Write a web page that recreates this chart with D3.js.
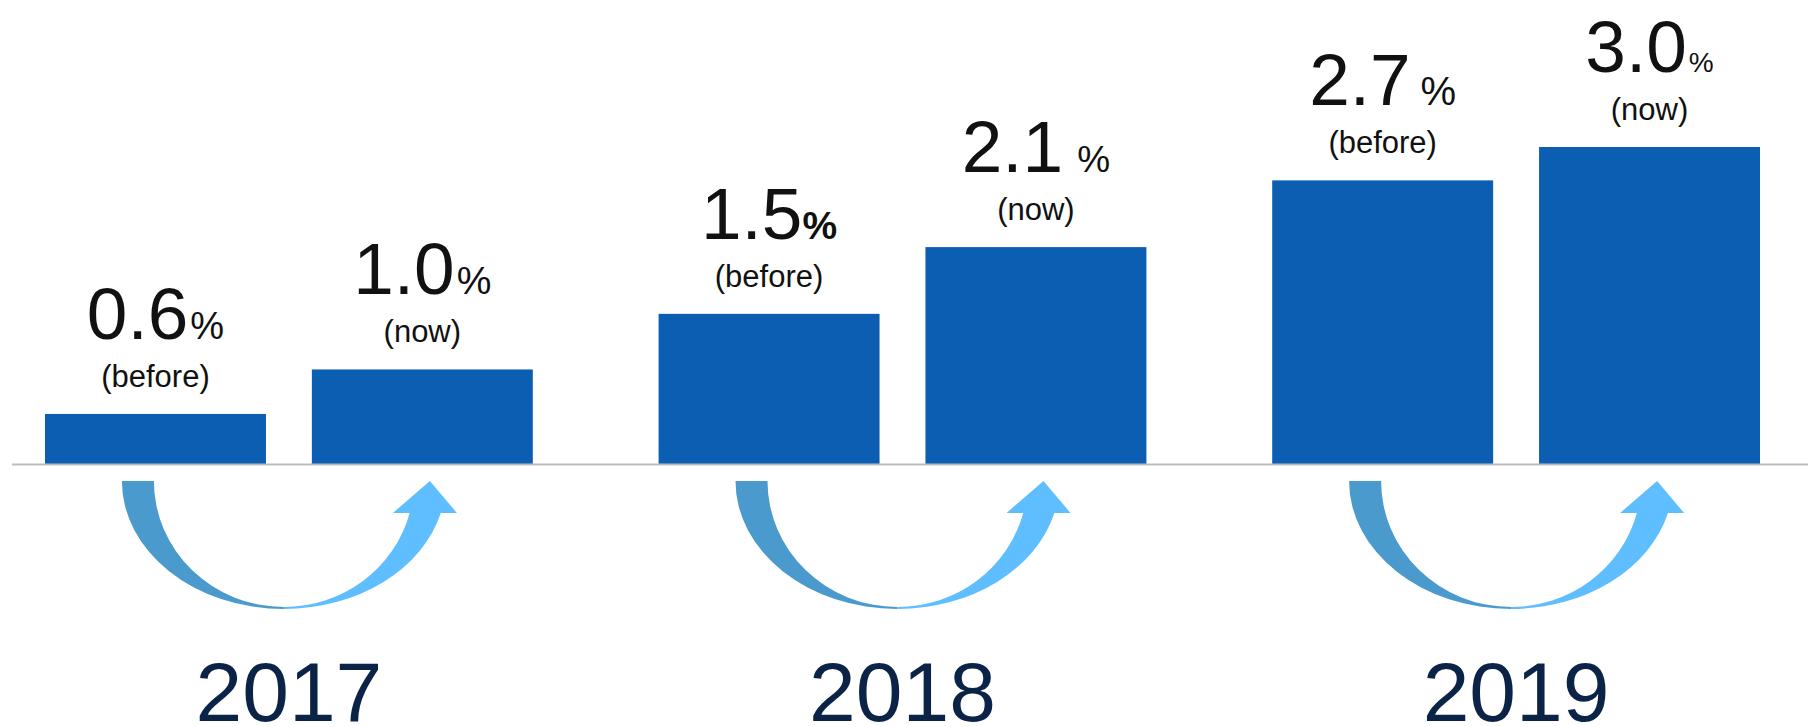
<!DOCTYPE html>
<html>
<head>
<meta charset="utf-8">
<script src="https://cdn.jsdelivr.net/npm/d3@7"></script>
<style>
  html, body { margin: 0; padding: 0; background: #fff; }
  svg { display: block; font-family: "Liberation Sans", Arial, sans-serif; }
</style>
</head>
<body>
<div id="viz"></div>
<script>
// data
var years = ['2017', '2018', '2019'];
var periods = ['before', 'now'];
var periodLabels = ['(before)', '(now)'];
var beforeValues = [0.6, 1.5, 2.7];
var nowValues = [1.0, 2.1, 3.0];

var width = 1808;
var height = 727;

var svg = d3
.select('#viz')
.append('svg')
.attr('width', width)
.attr('height', height)
;

// group scale + inner scale for before/now
var x0 = d3.scaleBand()
.domain(years)
.range([45, 1760])
.paddingInner(0.205)
;

var x1 = d3.scaleBand()
.domain(periods)
.range([0, x0.bandwidth()])
.paddingInner(0.172)
;

var y = d3.scaleLinear()
.domain([0.15, 3])
.range([464, 147])
;

var bars = [];
years.forEach(function(yr, i){
    bars.push({year: yr, period: 'before', label: periodLabels[0], v: beforeValues[i]});
    bars.push({year: yr, period: 'now', label: periodLabels[1], v: nowValues[i]});
});

// little per-label tweaks of the % sign (size, weight, gap)
var pctStyle = [
    {size: 38, weight: 400, dx: 2},
    {size: 39, weight: 400, dx: 2},
    {size: 39, weight: 700, dx: 0},
    {size: 37, weight: 400, dx: 14},
    {size: 40, weight: 400, dx: 10},
    {size: 28, weight: 400, dx: 2}
];

var base = y.domain()[0];

svg.append('g')
.attr('class', 'bars')
.selectAll('rect')
.data(bars)
.enter()
.append('rect')
.attr('x', function(d){ return x0(d.year) + x1(d.period); })
.attr('y', function(d){ return y(d.v); })
.attr('width', x1.bandwidth())
.attr('height', function(d){ return y(base) - y(d.v); })
.attr('fill', '#0c5eb3')
;

// baseline
svg.append('line')
.attr('x1', 12)
.attr('x2', width)
.attr('y1', y(base) + 0.5)
.attr('y2', y(base) + 0.5)
.attr('stroke', '#bdbdbd')
.attr('stroke-width', 2)
;

// value labels
var vl = svg.append('g')
.attr('class', 'valueLabels')
.selectAll('text')
.data(bars)
.enter()
.append('text')
.attr('text-anchor', 'middle')
.attr('fill', '#111')
.attr('x', function(d){ return x0(d.year) + x1(d.period) + x1.bandwidth() / 2; })
.attr('y', function(d){ return y(d.v) - 75; })
;

vl.append('tspan')
.attr('font-size', 73)
.text(function(d){ return d.v.toFixed(1); })
;

vl.append('tspan')
.attr('font-size', function(d, i){ return pctStyle[i].size; })
.attr('font-weight', function(d, i){ return pctStyle[i].weight; })
.attr('dx', function(d, i){ return pctStyle[i].dx; })
.text('%')
;

svg.append('g')
.attr('class', 'periodLabels')
.selectAll('text')
.data(bars)
.enter()
.append('text')
.attr('text-anchor', 'middle')
.attr('fill', '#111')
.attr('font-size', 31)
.attr('x', function(d){ return x0(d.year) + x1(d.period) + x1.bandwidth() / 2; })
.attr('y', function(d){ return y(d.v) - 27; })
.text(function(d){ return d.label; })
;

// curved arrows under each pair
var arrowTop = y(base) + 17;
var rxO = 162, ryO = 128, rxI = 130, ryI = 126;
var endY = arrowTop + 32;
var endO = rxO * Math.sqrt(1 - Math.pow(32 / ryO, 2));
var endI = rxI * Math.sqrt(1 - Math.pow(32 / ryI, 2));

var arrows = svg.append('g')
.attr('class', 'arrows')
.selectAll('g')
.data(years)
.enter()
.append('g')
.attr('transform', function(d){ return 'translate(' + (x0(d) + x0.bandwidth() / 2 - 5) + ',0)'; })
;

arrows.append('path')
.attr('fill', '#4a9acd')
.attr('d', function(){
    return 'M' + (-rxO) + ',' + arrowTop +
        'A' + rxO + ',' + ryO + ' 0 0 0 0,' + (arrowTop + ryO) +
        'L0,' + (arrowTop + ryI) +
        'A' + rxI + ',' + ryI + ' 0 0 1 ' + (-rxI) + ',' + arrowTop + 'Z';
})
;

arrows.append('path')
.attr('fill', '#5ebeff')
.attr('d', function(){
    return 'M0,' + (arrowTop + ryO) +
        'A' + rxO + ',' + ryO + ' 0 0 0 ' + endO + ',' + endY +
        'L173,' + endY +
        'L146,' + arrowTop +
        'L109,' + endY +
        'L' + endI + ',' + endY +
        'A' + rxI + ',' + ryI + ' 0 0 1 0,' + (arrowTop + ryI) + 'Z';
})
;

// year labels
svg.append('g')
.attr('class', 'yearLabels')
.selectAll('text')
.data(years)
.enter()
.append('text')
.attr('text-anchor', 'middle')
.attr('fill', '#0b2346')
.attr('font-size', 84)
.attr('x', function(d){ return x0(d) + x0.bandwidth() / 2; })
.attr('y', 721)
.text(function(d){ return d; })
;
</script>
</body>
</html>
